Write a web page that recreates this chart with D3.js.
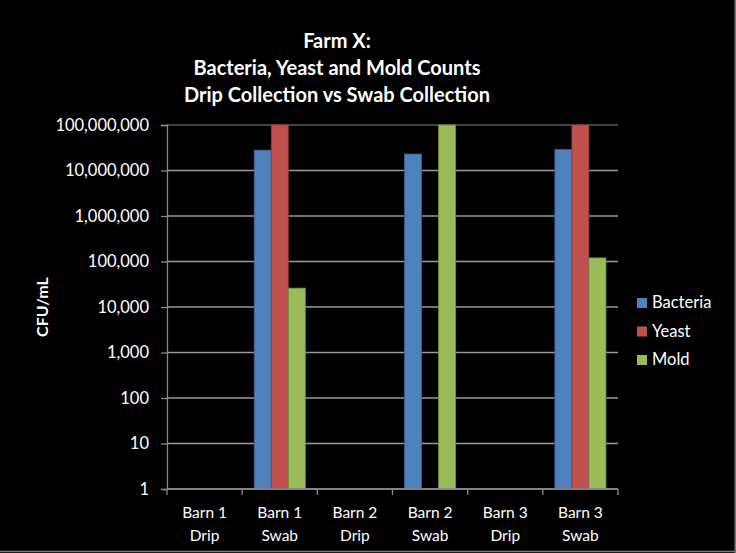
<!DOCTYPE html>
<html>
<head>
<meta charset="utf-8">
<script src="https://cdn.jsdelivr.net/npm/d3@7"></script>
<style>
  body { margin: 0; background: #000; }
  svg { display: block; }
  text { font-family: Lato, "Open Sans", sans-serif; fill: #fff; }
</style>
</head>
<body>
<svg id="chart" width="736" height="553"></svg>
<script>
// data
const categories = [['Barn 1', 'Drip'], ['Barn 1', 'Swab'], ['Barn 2', 'Drip'],
  ['Barn 2', 'Swab'], ['Barn 3', 'Drip'], ['Barn 3', 'Swab']];
const seriesNames = ['Bacteria', 'Yeast', 'Mold'];
const bacteria = [null, 28000000, null, 23000000, null, 29000000];
const yeast = [null, 100000000, null, null, null, 100000000];
const mold = [null, 26000, null, 100000000, null, 120000];
const yTicks = [1, 10, 100, 1000, 10000, 100000, 1000000, 10000000, 100000000];
const titleLines = ['Farm X:', 'Bacteria, Yeast and Mold Counts', 'Drip Collection vs Swab Collection'];

const colors = ['#4f81bd', '#c0504d', '#9bbb59'];
const edges = ['#3b6291', '#913c3a', '#748d43'];
const seriesValues = [bacteria, yeast, mold];

const width = 736, height = 553;
const margin = { top: 125, right: 118, bottom: 64, left: 167 };
const svg = d3.select('#chart');

svg.append('rect').attr('width', width).attr('height', height).attr('fill', '#000');

const x = d3.scaleBand()
  .domain(d3.range(categories.length))
  .range([margin.left, width - margin.right])
  .paddingInner(0.32).paddingOuter(0.16);
const xSub = d3.scaleBand().domain(d3.range(seriesNames.length)).range([0, x.bandwidth()]);
const y = d3.scaleLog().domain([1, 1e8]).range([height - margin.bottom, margin.top]);

// gridlines
svg.append('g')
  .selectAll('line')
  .data(yTicks)
  .join('line')
  .attr('x1', margin.left).attr('x2', width - margin.right)
  .attr('y1', d => y(d)).attr('y2', d => y(d))
  .attr('stroke', d => d === 1e8 ? '#5a5a5a' : '#9a9a9a')
  .attr('stroke-width', 1.3);

// bars
const groups = svg.append('g')
  .selectAll('g')
  .data(categories)
  .join('g')
  .attr('transform', (d, i) => `translate(${x(i)},0)`);

groups.selectAll('rect')
  .data((d, i) => seriesValues.map((s, k) => ({ k: k, v: s[i] })).filter(o => o.v !== null))
  .join('rect')
  .attr('x', d => xSub(d.k))
  .attr('width', xSub.bandwidth())
  .attr('y', d => y(d.v))
  .attr('height', d => y(1) - y(d.v))
  .attr('fill', d => colors[d.k])
  .attr('stroke', d => edges[d.k])
  .attr('stroke-width', 0.8);

// y axis
const yAxis = svg.append('g')
  .attr('transform', `translate(${margin.left},0)`)
  .call(d3.axisLeft(y).tickValues(yTicks).tickFormat(d3.format(',')).tickSize(6).tickPadding(12));
yAxis.select('.domain').attr('stroke', '#8a8a8a').attr('stroke-width', 1.3);
yAxis.selectAll('.tick line').attr('stroke', '#8a8a8a').attr('stroke-width', 1.3);
yAxis.selectAll('.tick text').attr('fill', '#fff').style('font-size', '16.5px')
  .style('font-family', 'Lato, "Open Sans", sans-serif');

// x axis
const xAxis = svg.append('g').attr('transform', `translate(0,${y(1)})`);
xAxis.append('line')
  .attr('x1', margin.left).attr('x2', width - margin.right)
  .attr('stroke', '#8a8a8a').attr('stroke-width', 1.3);
const step = x.step();
xAxis.selectAll('.xtick')
  .data(d3.range(categories.length + 1))
  .join('line')
  .attr('x1', i => margin.left + i * step).attr('x2', i => margin.left + i * step)
  .attr('y1', 0).attr('y2', 6)
  .attr('stroke', '#8a8a8a').attr('stroke-width', 1.3);
xAxis.selectAll('.xlabel')
  .data(categories)
  .join('text')
  .attr('text-anchor', 'middle')
  .attr('transform', (d, i) => `translate(${x(i) + x.bandwidth() / 2},0)`)
  .style('font-size', '15.5px')
  .selectAll('tspan')
  .data(d => d)
  .join('tspan')
  .attr('x', 0)
  .attr('y', (d, j) => 29 + j * 23)
  .text(d => d);

// y axis title
svg.append('text')
  .attr('transform', `translate(48,${(margin.top + y(1)) / 2}) rotate(-90)`)
  .attr('text-anchor', 'middle')
  .style('font-size', '16px').style('font-weight', 'bold')
  .text('CFU/mL');

// title
svg.append('g').selectAll('text')
  .data(titleLines)
  .join('text')
  .attr('x', 337)
  .attr('y', (d, i) => 48 + i * 27)
  .attr('text-anchor', 'middle')
  .style('font-size', '20px').style('font-weight', 'bold')
  .text(d => d);

// legend
const legend = svg.append('g').attr('transform', 'translate(637,298)');
const items = legend.selectAll('g')
  .data(seriesNames)
  .join('g')
  .attr('transform', (d, i) => `translate(0,${i * 28.5})`);
items.append('rect')
  .attr('width', 10).attr('height', 10)
  .attr('fill', (d, i) => colors[i]);
items.append('text')
  .attr('x', 15).attr('y', 10)
  .style('font-size', '16.5px')
  .text(d => d);

// thin frame on right and bottom
svg.append('line').attr('x1', 0).attr('x2', width).attr('y1', height - 1.5).attr('y2', height - 1.5)
  .attr('stroke', '#7a7a7a').attr('stroke-width', 1.5);
svg.append('line').attr('x1', width - 0.75).attr('x2', width - 0.75).attr('y1', 0).attr('y2', height)
  .attr('stroke', '#7a7a7a').attr('stroke-width', 1.5);
</script>
</body>
</html>
